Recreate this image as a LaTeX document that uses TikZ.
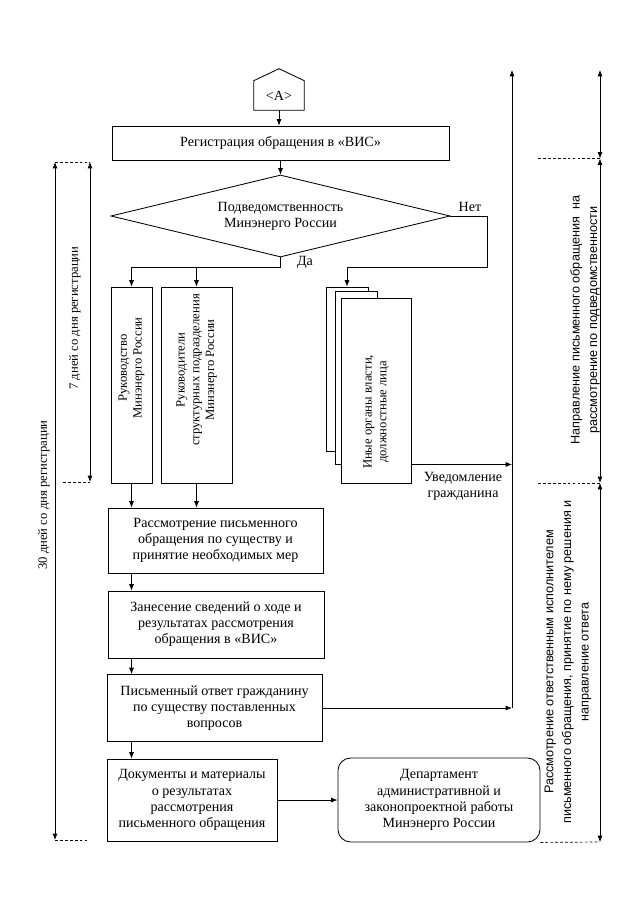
\documentclass[tikz,border=0pt]{standalone}
\usepackage{fontspec}
\setmainfont{Liberation Serif}
\newfontfamily\bokfont{Liberation Sans}
\usetikzlibrary{arrows.meta}
\usetikzlibrary{shapes.geometric}
\usetikzlibrary{positioning}
\tikzset{
  blok/.style={draw, line width=0.6pt, align=center, inner sep=1pt, font=\fontsize{10}{11.5}\selectfont},
  strelka/.style={-{Latex[length=4.5pt,width=3.5pt]}, line width=0.5pt},
  dvstrelka/.style={{Latex[length=4.5pt,width=3.5pt]}-{Latex[length=4.5pt,width=3.5pt]}, line width=0.5pt},
  punktir/.style={dash pattern=on 2pt off 1.5pt, line width=0.5pt},
}

\begin{document}
\begin{tikzpicture}[x=0.025cm, y=-0.025cm,
  vblok/.style={draw, line width=0.6pt, fill=white},
  vtxt/.style={rotate=90, align=center, inner sep=0pt, font=\fontsize{9}{10.5}\selectfont},
  bok/.style={rotate=90, align=center, inner sep=0pt, font=\bokfont\fontsize{9}{12.5}\selectfont},
  metka/.style={align=center, inner sep=1pt, font=\fontsize{10}{11.5}\selectfont}]
  \useasboundingbox (0,0) rectangle (640,905);
  % verkhnjaja chast
  \node[metka, minimum width=1.25cm, minimum height=0.725cm] (ref) at (279,95.5) {<A>};
  \draw[line width=0.6pt] (ref.south west) -- (ref.north west) -- ([yshift=0.3cm]ref.north) -- (ref.north east) -- (ref.south east) -- cycle;
  \node[blok, minimum width=8.425cm, minimum height=0.85cm] (reg) at (280.5,143) {Регистрация обращения в «ВИС»};
  \node[blok, shape=diamond, aspect=4.13, minimum width=8.475cm, minimum height=2.05cm, inner sep=0pt] (podv) at (280.5,216) {Подведомственность\\Минэнерго России};
  \node[metka] (net) at (470,207) {Нет};
  \node[metka] (da) at (305,262) {Да};
  % ispolniteli
  \node[vblok, minimum width=1.025cm, minimum height=4.9cm] (ruk) at (131.5,385) {};
  \node[vtxt] (rukT) at (131.5,368) {Руководство\\Минэнерго России};
  \node[vblok, minimum width=1.775cm, minimum height=4.9cm] (rks) at (196.5,385) {};
  \node[vtxt] (rksT) at (196.5,370) {Руководители\\структурных подразделения\\Минэнерго России};
  \node[vblok, minimum width=1.05cm, minimum height=4.1cm] (org3) at (347,369) {};
  \node[vblok, minimum width=1.05cm, minimum height=4.325cm] (org2) at (356,377.5) {};
  \node[vblok, minimum width=1.75cm, minimum height=4.625cm] (org1) at (376,390.5) {};
  \node[vtxt] (orgT) at (376,412) {Иные органы власти,\\должностные лица};
  \node[metka] (uved) at (463,486.5) {Уведомление\\гражданина};
  % nizhnjaja chast
  \node[blok, minimum width=5.375cm, minimum height=1.625cm] (rass) at (215.5,540.5) {Рассмотрение письменного\\обращения по существу и\\принятие необходимых мер};
  \node[blok, minimum width=5.4cm, minimum height=1.675cm] (zan) at (216,624.5) {Занесение сведений о ходе и\\результатах рассмотрения\\обращения в «ВИС»};
  \node[blok, minimum width=5.375cm, minimum height=1.675cm] (otv) at (214.5,708) {Письменный ответ гражданину\\по существу поставленных\\вопросов};
  \node[blok, minimum width=4.25cm, minimum height=2.05cm] (dok) at (192,800) {Документы и материалы\\о результатах\\рассмотрения\\письменного обращения};
  \node[blok, rounded corners=9pt, minimum width=5.05cm, minimum height=2.1cm] (dep) at (439,800) {Департамент\\административной и\\законопроектной работы\\Минэнерго России};
  % strelki
  \draw[strelka] (ref.south) -- (ref.south |- reg.north);
  \draw[strelka] (reg) -- (podv);
  \draw[strelka] (podv.east) -- ++(37,0) -- ++(0,51) -| (org3.north);
  \draw[line width=0.5pt] (podv.south) -- ++(0,10) coordinate (razv);
  \draw[strelka] (razv) -| (ruk.north);
  \draw[strelka] (razv) -| (rks.north);
  \draw[strelka] (ruk.south) -- (ruk.south |- rass.north);
  \draw[strelka] (rks.south) -- (rks.south |- rass.north);
  \foreach \a/\b in {rass/zan,zan/otv,otv/dok}
    \draw[strelka] (ruk.south |- \a.south) -- (ruk.south |- \b.north);
  \draw[strelka] (dok) -- (dep);
  \coordinate (kontrV) at (512,70);
  \coordinate (kontrN) at (512,708);
  \coordinate (uv) at ([yshift=0.475cm]org1.south east);
  \draw[strelka] (uv) -- (uv -| kontrN);
  \draw[strelka] (otv.east) -- (kontrN);
  \draw[strelka] (kontrN) -- (kontrV);
  % sroki sleva
  \coordinate (l30v) at (55,162);
  \coordinate (l30n) at (55,840);
  \coordinate (l7v) at (90,162);
  \coordinate (l7n) at (90,482);
  \coordinate (l7p) at (63,482);
  \draw[dvstrelka] (l30v) -- (l30n);
  \draw[dvstrelka] (l7v) -- (l7n);
  \draw[punktir] (l30v) -- (l7v);
  \draw[punktir] (l7p) -- (l7n);
  \draw[punktir] (l30n) -- ++(33,0);
  \node[vtxt] (t7) at (75,318) {7 дней со дня регистрации};
  \node[vtxt] (t30) at (44,495) {30 дней со дня регистрации};
  % etapy sprava
  \coordinate (p0) at (600,70);
  \coordinate (p1) at (600,158.5);
  \coordinate (p2) at (600,483);
  \coordinate (p3) at (600,842);
  \foreach \a/\b in {p0/p1,p1/p2,p2/p3}
    \draw[dvstrelka] (\a) -- (\b);
  \draw[punktir] (p1) -- ++(-63,0);
  \draw[punktir] (p2) -- ++(-63,0);
  \draw[punktir] (dep.south east) -- (p3);
  \node[bok] (tNapr) at (585,320) {Направление письменного обращения~~на\\рассмотрение по подведомственности};
  \node[bok] (tRassm) at (568,662) {Рассмотрение ответственным исполнителем\\письменного обращения, принятие по нему решения и\\направление ответа};
\end{tikzpicture}
\end{document}
